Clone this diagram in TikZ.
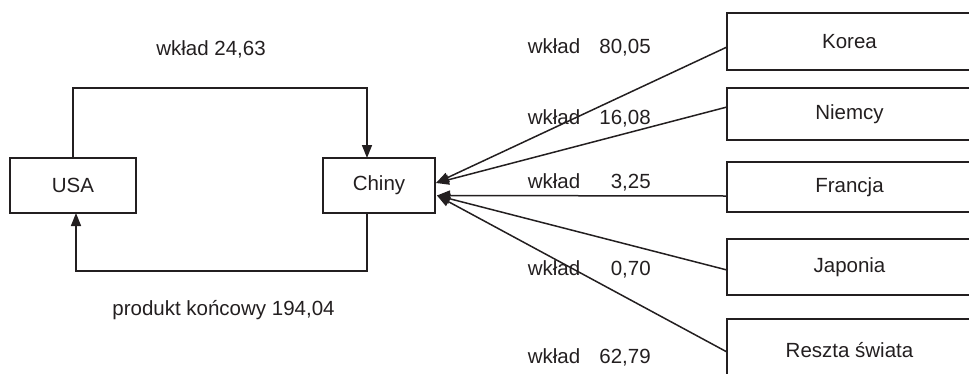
\documentclass[tikz,border=0pt]{standalone}
\usepackage{fontspec}
\setmainfont{Liberation Sans}
\usetikzlibrary{arrows.meta,calc}
\definecolor{ink}{HTML}{231F20}
\begin{document}
\begin{tikzpicture}[x=1pt,y=-1pt,line width=1.5pt,draw=ink,text=ink,
  font=\fontsize{20.5}{24}\selectfont,
  box/.style={draw,inner sep=0pt,outer sep=0pt,line width=1.3pt},
  rbox/.style={box,minimum width=245pt},
  lbl/.style={anchor=base,inner sep=0pt},
  arr/.style={-{Triangle[length=13pt,width=10pt]}}]
\useasboundingbox (0,0) rectangle (969,373);
\clip (0,0) rectangle (969,373);
% main boxes
\node[box,minimum width=126pt,minimum height=55pt] (usa) at (73,185.5) {USA};
\node[box,minimum width=112pt,minimum height=55pt] (chiny) at (379,185.5) {Chiny};
% right boxes
\node[rbox,minimum height=57pt] (korea) at (849.5,41.5) {Korea};
\node[rbox,minimum height=52pt] (niemcy) at (849.5,114) {Niemcy};
\node[rbox,minimum height=50pt] (francja) at (849.5,187) {Francja};
\node[rbox,minimum height=56pt] (japonia) at (849.5,267) {Japonia};
\node[rbox,minimum height=62pt] (reszta) at (849.5,350) {Reszta świata};
% USA <-> Chiny loop
\draw[arr] (usa.north) -- ++(0,-70) coordinate (tl) -| ([xshift=-12pt]chiny.north);
\draw[arr] ([xshift=-12pt]chiny.south) -- ++(0,58) coordinate (br) -| ([xshift=3pt]usa.south);
% converging arrows
\coordinate (c1) at ($(chiny.east)+(1,-2.5)$);
\coordinate (c2) at ($(chiny.east)+(2,10)$);
\draw[arr] ($(korea.west)+(0,5.5)$) -- (c1);
\draw[arr] ($(niemcy.west)+(0,-7)$) -- (c1);
\draw[arr] ($(francja.west)+(0,9)$) -- (c2);
\draw[arr] ($(japonia.west)+(0,3)$) -- (c2);
\draw[arr] ($(reszta.west)+(0,2)$) -- (c2);
% labels
\node[lbl] (l0) at (211,55) {wkład 24,63};
\node[lbl] (l1) at (223.5,315) {produkt końcowy 194,04};
\node[lbl,anchor=base west] (w1) at (527,53) {\makebox[123pt][l]{wkład\hfill 80,05}};
\node[lbl,anchor=base west] (w2) at (527,124) {\makebox[123pt][l]{wkład\hfill 16,08}};
\node[lbl,anchor=base west] (w3) at (527,188) {\makebox[123pt][l]{wkład\hfill 3,25}};
\node[lbl,anchor=base west] (w4) at (527,275) {\makebox[123pt][l]{wkład\hfill 0,70}};
\node[lbl,anchor=base west] (w5) at (527,363) {\makebox[123pt][l]{wkład\hfill 62,79}};
\end{tikzpicture}
\end{document}
